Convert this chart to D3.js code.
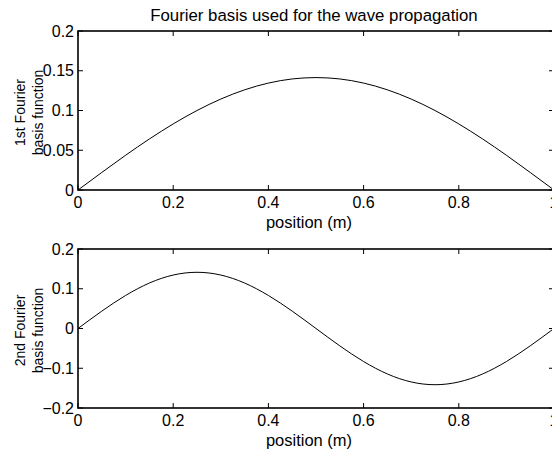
<!DOCTYPE html>
<html>
<head>
<meta charset="utf-8">
<script src="https://cdn.jsdelivr.net/npm/d3@7"></script>
<style>
  html, body { margin: 0; padding: 0; background: #fff; }
  svg { display: block; }
</style>
</head>
<body>
<div id="chart"></div>
<script>
// ─── Données ─────────────────────────────────────────────────────────
const positions = [0, 0.05, 0.1, 0.15, 0.2, 0.25, 0.3, 0.35, 0.4, 0.45, 0.5,
                   0.55, 0.6, 0.65, 0.7, 0.75, 0.8, 0.85, 0.9, 0.95, 1];
const basis1 = [0, 0.0221, 0.0437, 0.0642, 0.0831, 0.1, 0.1144, 0.126, 0.1345, 0.1397, 0.1414,
                0.1397, 0.1345, 0.126, 0.1144, 0.1, 0.0831, 0.0642, 0.0437, 0.0221, 0];
const basis2 = [0, 0.0437, 0.0831, 0.1144, 0.1345, 0.1414, 0.1345, 0.1144, 0.0831, 0.0437, 0,
                -0.0437, -0.0831, -0.1144, -0.1345, -0.1414, -0.1345, -0.1144, -0.0831, -0.0437, 0];
const xTicks = [0, 0.2, 0.4, 0.6, 0.8, 1];
const yTicks1 = [0, 0.05, 0.1, 0.15, 0.2];
const yTicks2 = [-0.2, -0.1, 0, 0.1, 0.2];

const W = 552, H = 453;
const FONT = 'Arial, "Liberation Sans", Helvetica, sans-serif';
const FS = 16;
const TICK = 5;

const svg = d3.select('#chart').append('svg')
  .attr('width', W).attr('height', H)
  .attr('viewBox', `0 0 ${W} ${H}`);

const x = d3.scaleLinear().domain([0, 1]).range([78, 554]);

// libellé de tick avec vrai signe moins
function fmt(v) {
  const s = d3.format('~g')(Math.abs(v));
  return (v < 0 ? '\u2212' : '') + s;
}

// Un sous-graphe façon MATLAB : boîte, ticks intérieurs, courbe
function panel(top, bottom, yDomain, yTicks, values, label) {
  const y = d3.scaleLinear().domain(yDomain).range([bottom, top]);
  const g = svg.append('g');
  const [x0, x1] = x.range();

  // courbe
  g.append('path')
    .datum(positions.map((p, i) => [p, values[i]]))
    .attr('fill', 'none')
    .attr('stroke', '#000')
    .attr('stroke-width', 1)
    .attr('d', d3.line().x(d => x(d[0])).y(d => y(d[1])).curve(d3.curveNatural));

  // ticks x (bas et haut)
  xTicks.forEach(t => {
    const px = x(t);
    g.append('line').attr('x1', px).attr('x2', px).attr('y1', bottom).attr('y2', bottom - TICK)
      .attr('stroke', '#000').attr('stroke-width', 1);
    g.append('line').attr('x1', px).attr('x2', px).attr('y1', top).attr('y2', top + TICK)
      .attr('stroke', '#000').attr('stroke-width', 1);
    g.append('text').attr('x', px).attr('y', bottom + 18)
      .attr('text-anchor', 'middle')
      .attr('font-family', FONT).attr('font-size', FS)
      .text(fmt(t));
  });

  // ticks y (gauche et droite)
  yTicks.forEach(t => {
    const py = y(t);
    g.append('line').attr('x1', x0).attr('x2', x0 + TICK).attr('y1', py).attr('y2', py)
      .attr('stroke', '#000').attr('stroke-width', 1);
    g.append('line').attr('x1', x1).attr('x2', x1 - TICK).attr('y1', py).attr('y2', py)
      .attr('stroke', '#000').attr('stroke-width', 1);
    g.append('text').attr('x', x0 - 4).attr('y', py + 5.5)
      .attr('text-anchor', 'end')
      .attr('font-family', FONT).attr('font-size', FS)
      .text(fmt(t));
  });

  // boîte
  g.append('rect')
    .attr('x', x0).attr('y', top)
    .attr('width', x1 - x0).attr('height', bottom - top)
    .attr('fill', 'none').attr('stroke', '#000').attr('stroke-width', 1.6);

  // titre d'axe x
  g.append('text').attr('x', 309).attr('y', bottom + 38)
    .attr('text-anchor', 'middle')
    .attr('font-family', FONT).attr('font-size', 16.5)
    .text('position (m)');

  // titre d'axe y sur deux lignes
  const cy = (top + bottom) / 2 + 2;
  label.forEach((line, i) => {
    g.append('text')
      .attr('transform', `translate(${25 + i * 18},${cy}) rotate(-90)`)
      .attr('text-anchor', 'middle')
      .attr('font-family', FONT).attr('font-size', 14)
      .text(line);
  });
  return y;
}

panel(31, 190, [0, 0.2], yTicks1, basis1, ['1st Fourier', 'basis function']);
panel(249, 408, [-0.2, 0.2], yTicks2, basis2, ['2nd Fourier', 'basis function']);

svg.append('text')
  .attr('x', 314).attr('y', 21)
  .attr('text-anchor', 'middle')
  .attr('font-family', FONT).attr('font-size', 16.8)
  .text('Fourier basis used for the wave propagation');
</script>
</body>
</html>
